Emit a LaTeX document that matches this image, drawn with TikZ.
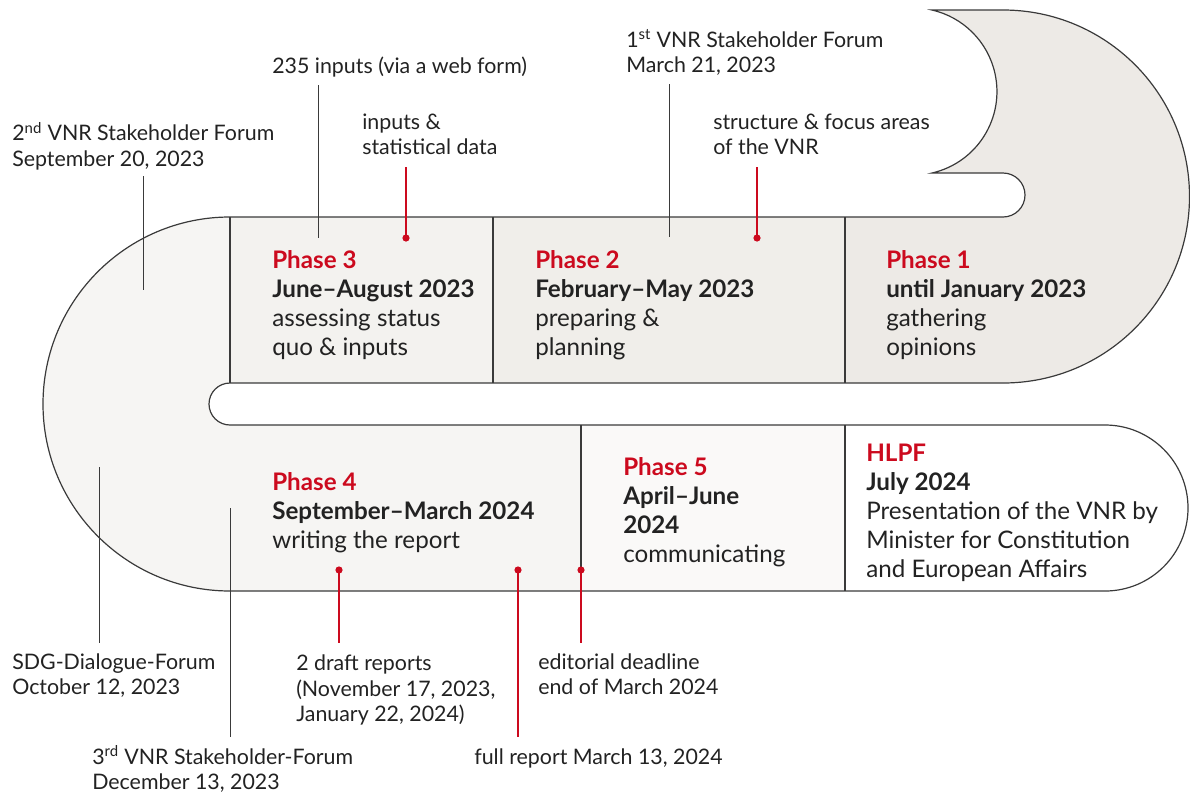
\documentclass[tikz,border=0pt]{standalone}
\usepackage{fontspec}
\setmainfont{Lato}

\definecolor{vnrred}{HTML}{CC0A1E}
\definecolor{ink}{HTML}{222222}
\definecolor{edge}{HTML}{3A3A3A}
\definecolor{toneA}{HTML}{EDEAE6}
\definecolor{toneB}{HTML}{F0EEEA}
\definecolor{toneC}{HTML}{F3F2EF}
\definecolor{toneD}{HTML}{F6F5F3}
\definecolor{toneE}{HTML}{FAF9F8}

\begin{document}
\begin{tikzpicture}[x=0.25mm,y=-0.25mm,
        every node/.style={inner sep=0pt,anchor=north west,align=left,text=ink,execute at begin node=\strut},
        phase/.style={font=\fontsize{17.2}{20.6}\selectfont},
        note/.style={font=\fontsize{15.2}{18.2}\selectfont},
        outline/.style={draw=edge,line width=0.3mm},
        lead/.style={draw=edge,line width=0.25mm},
        redlead/.style={draw=vnrred,line width=0.35mm},
        dot/.style={fill=vnrred}]

    \useasboundingbox (0,0) rectangle (1190,793);

    % band fills
    \fill[toneC] (230,217) rectangle (493,383);
    \fill[toneB] (493,217) rectangle (845,383);
    \fill[toneA] (845,217) -- (1003,217) arc[start angle=-90,end angle=90,radius=5.5mm]
        -- (932,173) arc[start angle=-77.1,end angle=77.1,radius=20.9mm]
        -- (1003,10) arc[start angle=90,end angle=-90,radius=46.625mm] -- (845,383) -- cycle;
    \fill[toneD] (230,217) arc[start angle=90,end angle=270,radius=46.75mm]
        -- (581,591) -- (581,425) -- (230,425) arc[start angle=270,end angle=90,radius=5.25mm] -- cycle;
    \fill[toneE] (581,425) rectangle (845,591);

    % band outline
    \draw[outline] (230,217) -- (1003,217) arc[start angle=-90,end angle=90,radius=5.5mm]
        -- (932,173) arc[start angle=-77.1,end angle=77.1,radius=20.9mm]
        -- (1003,10) arc[start angle=90,end angle=-90,radius=46.625mm]
        -- (230,383) arc[start angle=90,end angle=270,radius=5.25mm]
        -- (1105,425) arc[start angle=90,end angle=-90,radius=20.75mm]
        -- (230,591) arc[start angle=270,end angle=90,radius=46.75mm] -- cycle;
    \draw[outline] (230,217) -- (230,383) (493,217) -- (493,383) (845,217) -- (845,383)
        (581,425) -- (581,591) (845,425) -- (845,591);

    % phases
    \node[phase] (ph3) at (272,250.2) {{\color{vnrred}\bfseries Phase 3}\\{\bfseries June–August 2023}\\assessing status\\quo \& inputs};
    \node[phase] (ph2) at (535,250.2) {{\color{vnrred}\bfseries Phase 2}\\{\bfseries February–May 2023}\\preparing \&\\planning};
    \node[phase] (ph1) at (886,250.2) {{\color{vnrred}\bfseries Phase 1}\\{\bfseries until January 2023}\\gathering\\opinions};
    \node[phase] (ph4) at (272,472.2) {{\color{vnrred}\bfseries Phase 4}\\{\bfseries September–March 2024}\\writing the report};
    \node[phase] (ph5) at (623,457.2) {{\color{vnrred}\bfseries Phase 5}\\{\bfseries April–June}\\{\bfseries 2024}\\communicating};
    \node[phase] (hlpf) at (866,443.7) {{\color{vnrred}\bfseries HLPF}\\{\bfseries July 2024}\\Presentation of the VNR by\\Minister for Constitution\\and European Affairs};

    % notes
    \node[note] (web) at (272,55) {235 inputs (via a web form)};
    \node[note] (stat) at (362,113.5) {inputs \&\\statistical data};
    \node[note] (forumA) at (626,29.6) {1\textsuperscript{st} VNR Stakeholder Forum\\March 21, 2023};
    \node[note] (focus) at (713,113.5) {structure \& focus areas\\of the VNR};
    \node[note] (forumB) at (12,122.1) {2\textsuperscript{nd} VNR Stakeholder Forum\\September 20, 2023};
    \node[note] (sdg) at (12,653) {SDG-Dialogue-Forum\\October 12, 2023};
    \node[note] (forumC) at (92,745.5) {3\textsuperscript{rd} VNR Stakeholder-Forum\\December 13, 2023};
    \node[note] (draft) at (296,654.5) {2 draft reports\\(November 17, 2023,\\January 22, 2024)};
    \node[note] (full) at (474,746.1) {full report March 13, 2024};
    \node[note] (deadline) at (538,653) {editorial deadline\\end of March 2024};

    % leader ends
    \coordinate (webT) at (318,85);     \coordinate (webB) at (318,238);
    \coordinate (forumAT) at (669,84);  \coordinate (forumAB) at (669,237);
    \coordinate (forumBT) at (143,176); \coordinate (forumBB) at (143,290);
    \coordinate (sdgT) at (99,467);     \coordinate (sdgB) at (99,643);
    \coordinate (forumCT) at (230,508); \coordinate (forumCB) at (230,737);
    \coordinate (statT) at (406,167);   \coordinate (statB) at (406,238);
    \coordinate (focusT) at (757,167);  \coordinate (focusB) at (757,238);
    \coordinate (draftT) at (339,570);  \coordinate (draftB) at (339,643);
    \coordinate (fullT) at (518,570);   \coordinate (fullB) at (518,737);
    \coordinate (deadT) at (581,570);   \coordinate (deadB) at (581,643);

    \draw[lead] (webT) -- (webB);
    \draw[lead] (forumAT) -- (forumAB);
    \draw[lead] (forumBT) -- (forumBB);
    \draw[lead] (sdgT) -- (sdgB);
    \draw[lead] (forumCT) -- (forumCB);

    \draw[redlead] (statT) -- (statB);
    \draw[redlead] (focusT) -- (focusB);
    \draw[redlead] (draftT) -- (draftB);
    \draw[redlead] (fullT) -- (fullB);
    \draw[redlead] (deadT) -- (deadB);
    \foreach \d in {statB,focusB,draftT,fullT,deadT}
        \fill[dot] (\d) circle[radius=0.9mm];
\end{tikzpicture}
\end{document}
